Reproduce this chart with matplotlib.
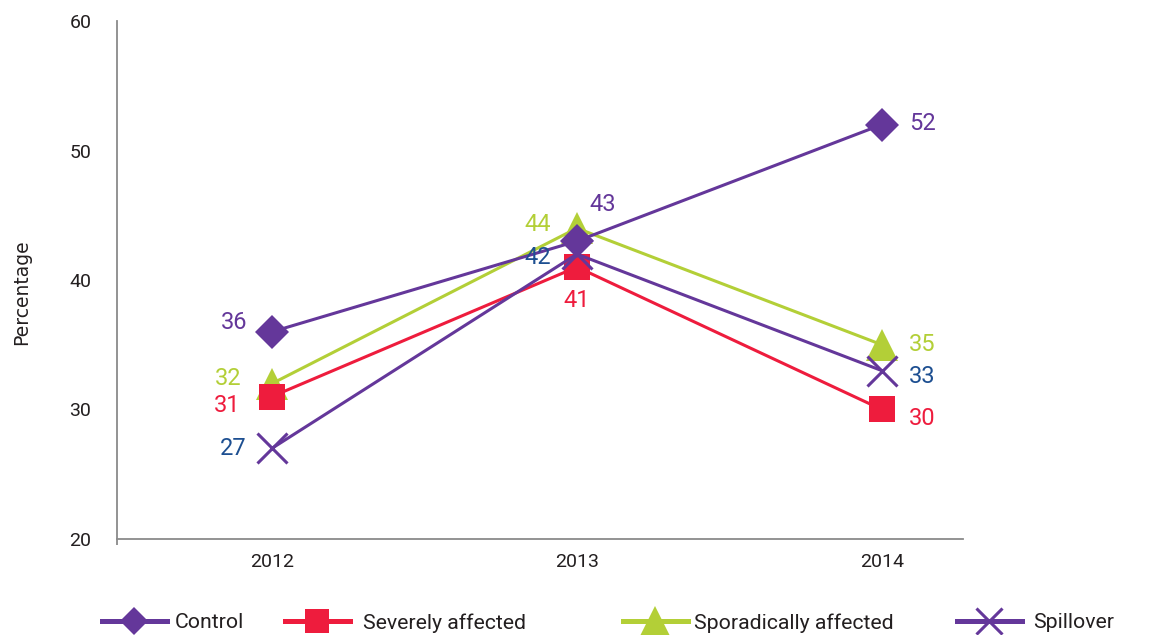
import matplotlib
matplotlib.use("Agg")
import matplotlib.pyplot as plt
from matplotlib.lines import Line2D

# ---- data -------------------------------------------------------------
years = ["2012", "2013", "2014"]
control = [36, 43, 52]
severely_affected = [31, 41, 30]
sporadically_affected = [32, 44, 35]
spillover = [27, 42, 33]
y_ticks = [20, 30, 40, 50, 60]

# ---- styling ----------------------------------------------------------
PURPLE = "#64379a"
RED = "#ee1c3d"
LIME = "#b3cf37"
BLUE = "#1d4f91"
INK = "#231f20"
GREY = "#8a8a8a"
PX = 0.72  # pixels -> points at 100 dpi

plt.rcParams["font.family"] = ["Roboto", "DejaVu Sans"]

W, H = 1153, 635
fig = plt.figure(figsize=(W / 100, H / 100), dpi=100)
ax = fig.add_axes([117 / W, 96 / H, 846 / W, 518 / H])
xpos = list(range(len(years)))

# drawing order: later series sit on top
series = [
    dict(name="Sporadically affected", values=sporadically_affected, color=LIME,
         marker="^", ms=23.5, mew=0, label_color=LIME, leg_ms=22,
         offsets=[(-30, 5, "right"), (-26, 4, "right"), (27, 0, "left")]),
    dict(name="Severely affected", values=severely_affected, color=RED,
         marker="s", ms=18.7, mew=0, label_color=RED, leg_ms=16.6,
         offsets=[(-32, -9, "right"), (0, -33, "center"), (27, -9, "left")]),
    dict(name="Spillover", values=spillover, color=PURPLE,
         marker="x", ms=21, mew=2.2, label_color=BLUE, leg_ms=18.7,
         offsets=[(-25, 0, "right"), (-26, -3, "right"), (27, -6, "left")]),
    dict(name="Control", values=control, color=PURPLE,
         marker="D", ms=17.8, mew=0, label_color=PURPLE, leg_ms=14.3,
         offsets=[(-25, 9, "right"), (13, 37, "left"), (27, 1, "left")]),
]

for z, s in enumerate(series):
    ax.plot(xpos, s["values"], color=s["color"], lw=2.2, marker=s["marker"],
            ms=s["ms"], mew=s["mew"], mec=s["color"], mfc=s["color"],
            zorder=3 + z, clip_on=False)
    for xi, v, (dx, dy, ha) in zip(xpos, s["values"], s["offsets"]):
        ax.annotate(f"{v}", (xi, v), xytext=(dx * PX, dy * PX),
                    textcoords="offset points", ha=ha, va="center",
                    fontsize=17, color=s["label_color"], zorder=10)

# ---- axes -------------------------------------------------------------
ax.set_xlim(-0.508, 2.266)
ax.set_ylim(20, 60)
ax.set_xticks(xpos)
ax.set_xticklabels(years)
ax.set_yticks(y_ticks)
ax.tick_params(axis="both", length=0, labelsize=14, labelcolor=INK)
ax.tick_params(axis="y", pad=18.5)
ax.tick_params(axis="x", pad=10)
for side in ("top", "right"):
    ax.spines[side].set_visible(False)
for side in ("left", "bottom"):
    ax.spines[side].set_color(GREY)
    ax.spines[side].set_linewidth(1.3)
# short stub of the vertical axis below the baseline
ax.plot([0, 0], [0, -0.012], transform=ax.transAxes, color=GREY, lw=1.3,
        clip_on=False, solid_capstyle="butt")

ax.set_ylabel("Percentage", fontsize=13.5, color=INK, family="DejaVu Sans")
ax.yaxis.set_label_coords((31 - 117) / 846, (539 - 292) / 518)

# ---- legend: one entry per slot along the bottom ---------------------
legend_slots = [  # handle start (px), gap to text (font units)
    ("Control", 102, 0.38),
    ("Severely affected", 285, 0.62),
    ("Sporadically affected", 623, 0.3),
    ("Spillover", 957, 0.55),
]
by_name = {s["name"]: s for s in series}
for name, x0, gap in legend_slots:
    s = by_name[name]
    handle = Line2D([], [], color=s["color"], lw=3.6, marker=s["marker"],
                    ms=s["leg_ms"], mew=s["mew"], mec=s["color"], mfc=s["color"])
    fig.legend([handle], [name], loc="center left",
               bbox_to_anchor=(x0 / W, 1 - 623 / H), frameon=False,
               borderpad=0, borderaxespad=0, handlelength=3.05,
               handletextpad=gap, fontsize=15.3, labelcolor=INK, numpoints=1)

fig.savefig("out.png", dpi=100)
